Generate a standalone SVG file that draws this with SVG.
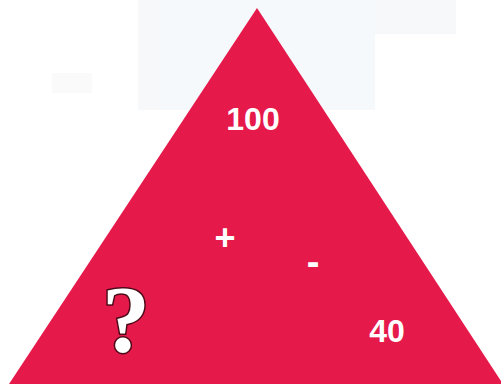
<svg xmlns="http://www.w3.org/2000/svg" width="501" height="385" viewBox="0 0 501 385">
  <style>
    .num { font-family: "Liberation Sans", Arial, sans-serif; font-weight: bold; fill: #ffffff; text-anchor: middle; }
    .q { font-family: "Liberation Serif", "Times New Roman", serif; font-weight: bold; fill: #ffffff; stroke: #4a0a18; stroke-width: 3; paint-order: stroke; text-anchor: middle; }
  </style>
  <rect width="501" height="385" fill="#ffffff"/>
  <g id="background-marks">
    <rect x="138" y="0" width="318" height="34" fill="#f7f8f9"/>
    <rect x="138" y="0" width="237" height="110" fill="#f7f8f9"/>
    <rect x="160" y="0" width="215" height="110" fill="#f6f9fc"/>
    <rect x="52" y="73" width="40" height="20" fill="#fafafa"/>
  </g>
  <g id="triangle">
    <polygon points="257,8 9,384 503,384" fill="#e6194b"/>
  </g>
  <g id="labels">
    <text class="num" x="253" y="130" font-size="32">100</text>
    <text class="num" x="225" y="250" font-size="36">+</text>
    <text class="num" x="313" y="275" font-size="38">-</text>
    <text class="q" x="126" y="352" font-size="96">?</text>
    <text class="num" x="387" y="342" font-size="32">40</text>
  </g>
</svg>
